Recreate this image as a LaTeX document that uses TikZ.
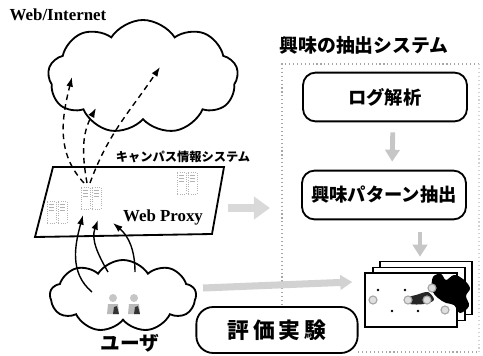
\documentclass[tikz,border=0pt]{standalone}
\usepackage{fontspec}
\setmainfont{Liberation Serif}
\newfontfamily\jp{Noto Sans CJK JP}
\usetikzlibrary{shapes.symbols,arrows.meta,positioning}

\begin{document}
\begin{tikzpicture}[
  x=0.025cm, y=0.025cm,
  stage/.style={
    draw, line width=1.3pt,
    rounded corners=9pt,
    minimum width=4.1cm,
    minimum height=1.22cm,
    font=\jp\bfseries\fontsize{13}{15}\selectfont},
  cloudy/.style={
    draw, cloud, cloud puffs=9,
    cloud puff arc=115,
    line width=1.3pt},
  request/.style={
    -{Latex[length=2.4mm,width=1.7mm]},
    line width=1pt,
    dash pattern=on 4pt off 3pt},
  access/.style={
    -{Latex[length=2.4mm,width=1.7mm]},
    line width=1pt},
  flow/.style={
    -{Triangle[length=3mm,width=3.6mm]},
    line width=3.5pt, color=gray!45},
  frame/.style={
    draw, line width=1pt, fill=white,
    minimum width=2.3cm, minimum height=1.33cm,
    inner sep=0pt},
  server/.pic={
    \draw[gray!60, densely dotted, line width=0.6pt]
      (-10,-11) rectangle (-1,11) (1,-11) rectangle (10,11);
    \draw[gray!60, line width=0.5pt]
      (-8,8) -- (-3,8) (-8,5) -- (-3,5) (-8,2) -- (-3,2)
      (3,8) -- (8,8) (3,5) -- (8,5) (3,2) -- (8,2);
  },
  person/.pic={
    \fill[gray!45] (0,7) circle (4);
    \fill[gray!55] (-6,-9) -- (-5,1) -- (5,1) -- (6,-9) -- cycle;
    \fill[black!80] (0,-9) -- (1,-2) -- (4,-1) -- (6,-9) -- cycle;
  }
]
\useasboundingbox (0,0) rectangle (483,-356);

% ---- internet side
\node[font=\bfseries\fontsize{12}{14}\selectfont] (netlabel) at (58,-15)
  {Web/Internet};
\node[cloudy, minimum width=4.75cm, minimum height=2.85cm] (internet)
  at (143,-77) {};

% ---- campus proxy
\coordinate (p1) at (53,-167);
\coordinate (p2) at (224,-167);
\coordinate (p3) at (212,-234);
\coordinate (p4) at (35,-237);
\draw[line width=1.3pt] (p1) -- (p2) -- (p3) -- (p4) -- cycle;
\node[font=\jp\bfseries\fontsize{8.7}{10}\selectfont] (campus) at (183,-157)
  {キャンパス情報システム};
\node[font=\bfseries\fontsize{12}{14}\selectfont] (proxy) at (163,-217)
  {Web Proxy};
\pic at (57,-212) {server};
\pic at (91,-198) {server};
\pic at (187,-183) {server};

% requests going out
\coordinate (q1) at (84,-183);
\coordinate (q2) at (87,-183);
\coordinate (q3) at (90,-183);
\coordinate (w1) at (72,-77);
\coordinate (w2) at (96,-108);
\coordinate (w3) at (160,-67);
\draw[request] (q1) to[out=133, in=-104] (w1);
\draw[request] (q2) to[out=100, in=-119] (w2);
\draw[request] (q3) to[out=70, in=-124] (w3);

% ---- users
\node[cloudy, minimum width=3.65cm, minimum height=1.8cm] (users)
  at (123,-296) {};
\pic at (113,-305) {person};
\pic at (134,-305) {person};
\node[font=\jp\bfseries\fontsize{14}{16}\selectfont] (userlabel) at (130,-343)
  {ユーザ};

\coordinate (u1) at (92,-292);
\coordinate (u2) at (108,-272);
\coordinate (u3) at (135,-272);
\coordinate (r1) at (83,-215);
\coordinate (r2) at (98,-220);
\coordinate (r3) at (113,-223);
\draw[access] (u1) to[out=140, in=-105] (r1);
\draw[access] (u2) to[out=120, in=-110] (r2);
\draw[access] (u3) to[out=90, in=-40] (r3);

% ---- interest extraction system
\node[font=\jp\bfseries\fontsize{13.4}{16}\selectfont] (systitle) at (364,-45)
  {興味の抽出システム};
\draw[gray!70, dotted, line width=0.8pt]
  (358,-352) -- (479,-352) (479,-64) -- (282,-64) -- (282,-305);
\draw[gray!35, dotted, line width=0.8pt] (479,-64) -- (479,-352);

\node[stage] (logparse) at (385,-97) {ログ解析};
\node[stage] (pattern) at (384,-195) {興味パターン抽出};
\node[stage, minimum width=4.03cm, minimum height=1.15cm,
  rounded corners=12pt, font=\jp\bfseries\fontsize{15.5}{18}\selectfont]
  (evaluate) at (277,-330) {評\,価\,実\,験};

% interest maps
\node[frame] (map3) at (426,-288) {};
\node[frame] (map2) at (419,-294) {};
\node[frame] (map1) at (411,-300) {};
\fill[black] plot[smooth cycle, tension=0.6] coordinates {
  (433,-277) (441,-274) (446,-280) (454,-275) (463,-279) (470,-288)
  (466,-296) (469,-306) (460,-313) (454,-305) (446,-303) (438,-298)
  (432,-290)};
\fill[black!85] plot[smooth cycle] coordinates {
  (406,-298) (416,-295) (428,-292) (434,-300) (424,-304) (410,-304)};
\foreach \p in {(373,-300), (408,-300), (427,-300), (432,-288), (445,-310)}
  \draw[gray!70, fill=gray!25, line width=0.8pt] \p circle (4);
\foreach \p in {(378,-290), (405,-290), (392,-311), (418,-311)}
  \fill \p circle (1.4);
\draw[line width=1pt] (map1.north west) rectangle (map1.south east);

% ---- grey flows
\coordinate (proxyout) at (228,-208);
\coordinate (sysin) at (270,-208);
\draw[flow, color=gray!30, line width=5pt,
  -{Triangle[length=4mm,width=5.5mm]}] (proxyout) -- (sysin);
\draw[flow, shorten <=2.5mm, shorten >=2mm]
  ([xshift=2mm]logparse.south) -- ([xshift=2mm]pattern.north);
\draw[flow, shorten <=2.8mm]
  ([xshift=9mm]pattern.south) -- ([xshift=9mm,yshift=1mm]pattern.south |- map3.north);
\draw[flow, color=gray!35, line width=5pt]
  ([xshift=1.5mm,yshift=2mm]users.east) -- ([xshift=-3mm,yshift=4.5mm]map1.west);

\end{tikzpicture}
\end{document}
